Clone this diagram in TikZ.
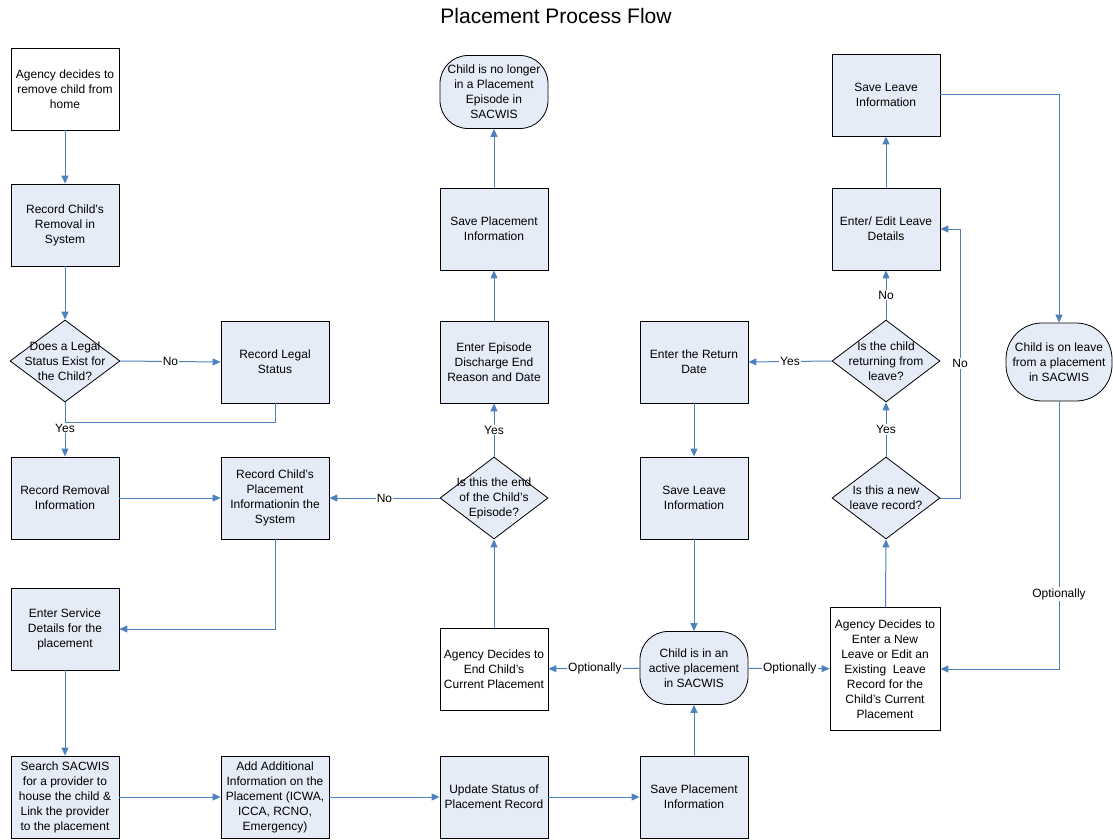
\documentclass[tikz,border=0pt]{standalone}
\usepackage{fontspec}
\setmainfont{Liberation Sans}
\usetikzlibrary{arrows.meta,shapes.geometric}
\definecolor{boxfill}{HTML}{E6ECF7}
\definecolor{flow}{HTML}{4F81BD}
\begin{document}
\begin{tikzpicture}[x=1pt,y=-1pt,
  txt/.style={font=\fontsize{12}{15}\selectfont,align=center},
  box/.style={txt,rectangle,draw=black,line width=0.8pt,fill=boxfill,
    minimum width=108pt,minimum height=82pt,inner sep=0pt},
  wbox/.style={box,fill=white},
  term/.style={box,rounded corners=28pt,minimum height=73pt},
  dia/.style={diamond,draw=black,line width=0.8pt,fill=boxfill,
    minimum width=110pt,minimum height=82pt,inner sep=0pt},
  dtext/.style={txt,inner sep=0pt},
  arr/.style={draw=flow,line width=1pt,-{Triangle[length=8pt,width=7pt]}},
  link/.style={draw=flow,line width=1pt},
  lbl/.style={txt,fill=white,inner sep=1pt}]
\useasboundingbox (0,0) rectangle (1113,840);
\node[font=\fontsize{21}{25}\selectfont] (title) at (556,16) {Placement Process Flow};

% column 1
\node[wbox] (agency) at (65,89) {Agency decides to\\remove child from\\home};
\node[box] (removal) at (65,225) {Record Child's\\Removal in\\System};
\node[dia] (d1) at (65,361) {};
\node[dtext] (d1t) at (d1) {Does a Legal\\Status Exist for\\the Child?};
\node[box] (rri) at (65,498) {Record Removal\\Information};
\node[box] (esd) at (65,629) {Enter Service\\Details for the\\placement};
\node[box] (search) at (65,797) {Search SACWIS\\for a provider to\\house the child \&\\Link the provider\\to the placement};

% column 2
\node[box] (rls) at (275,362) {Record Legal\\Status};
\node[box] (rcp) at (275,498) {Record Child's\\Placement\\Informationin the\\System};
\node[box] (add) at (275,797) {Add Additional\\Information on the\\Placement (ICWA,\\ICCA, RCNO,\\Emergency)};

% column 3
\node[term] (nolonger) at (494,92) {Child is no longer\\in a Placement\\Episode in\\SACWIS};
\node[box] (spi) at (494,229) {Save Placement\\Information};
\node[box] (eed) at (494,362) {Enter Episode\\Discharge End\\Reason and Date};
\node[dia,minimum width=108pt] (d2) at (494,498) {};
\node[dtext] (d2t) at (d2) {Is this the end\\of the Child's\\Episode?};
\node[wbox] (aec) at (494,669) {Agency Decides to\\End Child's\\Current Placement};
\node[box] (upd) at (494,797) {Update Status of\\Placement Record};

% column 4
\node[box] (erd) at (694,362) {Enter the Return\\Date};
\node[box] (sli) at (694,498) {Save Leave\\Information};
\node[term] (active) at (694,668) {Child is in an\\active placement\\in SACWIS};
\node[box] (spi2) at (694,797) {Save Placement\\Information};

% column 5
\node[box] (sl2) at (886,95) {Save Leave\\Information};
\node[box] (ee) at (886,229) {Enter/ Edit Leave\\Details};
\node[dia,minimum width=108pt] (d3) at (886,361) {};
\node[dtext] (d3t) at (d3) {Is the child\\returning from\\leave?};
\node[dia,minimum width=108pt] (d4) at (886,498) {};
\node[dtext] (d4t) at (d4) {Is this a new\\leave record?};
\node[wbox,minimum width=110pt,minimum height=123pt] (anl) at (885,669)
  {Agency Decides to\\Enter a New\\Leave or Edit an\\Existing~ Leave\\Record for the\\Child's Current\\Placement};

% column 6
\node[term,minimum width=106pt,minimum height=78pt,rounded corners=36pt] (onleave) at (1059,362)
  {Child is on leave\\from a placement\\in SACWIS};

% connectors
\coordinate (join) at (65,422);
\coordinate (bend) at (960,498);
\draw[arr] (agency) -- (removal);
\draw[arr] (removal) -- (d1);
\draw[arr] (d1.east) -- node[lbl] (no1) {No} (rls.west);
\draw[link] (rls.south) |- (join);
\draw[arr] (d1.south) -- (rri.north);
\node[lbl] (yes1) at (65,428) {Yes};
\draw[arr] (rri) -- (rcp);
\draw[arr] (rcp.south) |- (esd.east);
\draw[arr] (esd) -- (search);
\draw[arr] (search) -- (add);
\draw[arr] (add) -- (upd);
\draw[arr] (upd) -- (spi2);
\draw[arr] (spi2) -- (active);
\draw[arr] (active) -- node[lbl,pos=0.49] (opt1) {Optionally} (aec);
\draw[arr] (active) -- node[lbl,pos=0.51] (opt2) {Optionally} (anl);
\draw[arr] (aec) -- (d2.south);
\draw[arr] (d2.west) -- node[lbl] (no2) {No} (rcp.east);
\draw[arr] (d2.north) -- node[lbl] (yes2) {Yes} (eed.south);
\draw[arr] (eed) -- (spi);
\draw[arr] (spi) -- (nolonger);
\draw[arr] (anl) -- (d4.south);
\draw[arr] (d4.north) -- node[lbl] (yes3) {Yes} (d3.south);
\draw[arr] (d4.east) -- (bend) |- node[lbl,pos=0.25] (no3) {No} (ee.east);
\draw[arr] (d3.west) -- node[lbl] (yes4) {Yes} (erd.east);
\draw[arr] (d3.north) -- node[lbl] (no4) {No} (ee.south);
\draw[arr] (ee) -- (sl2);
\draw[arr] (sl2.east) -| (onleave.north);
\draw[arr] (onleave.south) |- node[lbl,pos=0.36] (opt3) {Optionally} (anl.east);
\draw[arr] (erd) -- (sli);
\draw[arr] (sli) -- (active);
\end{tikzpicture}
\end{document}
